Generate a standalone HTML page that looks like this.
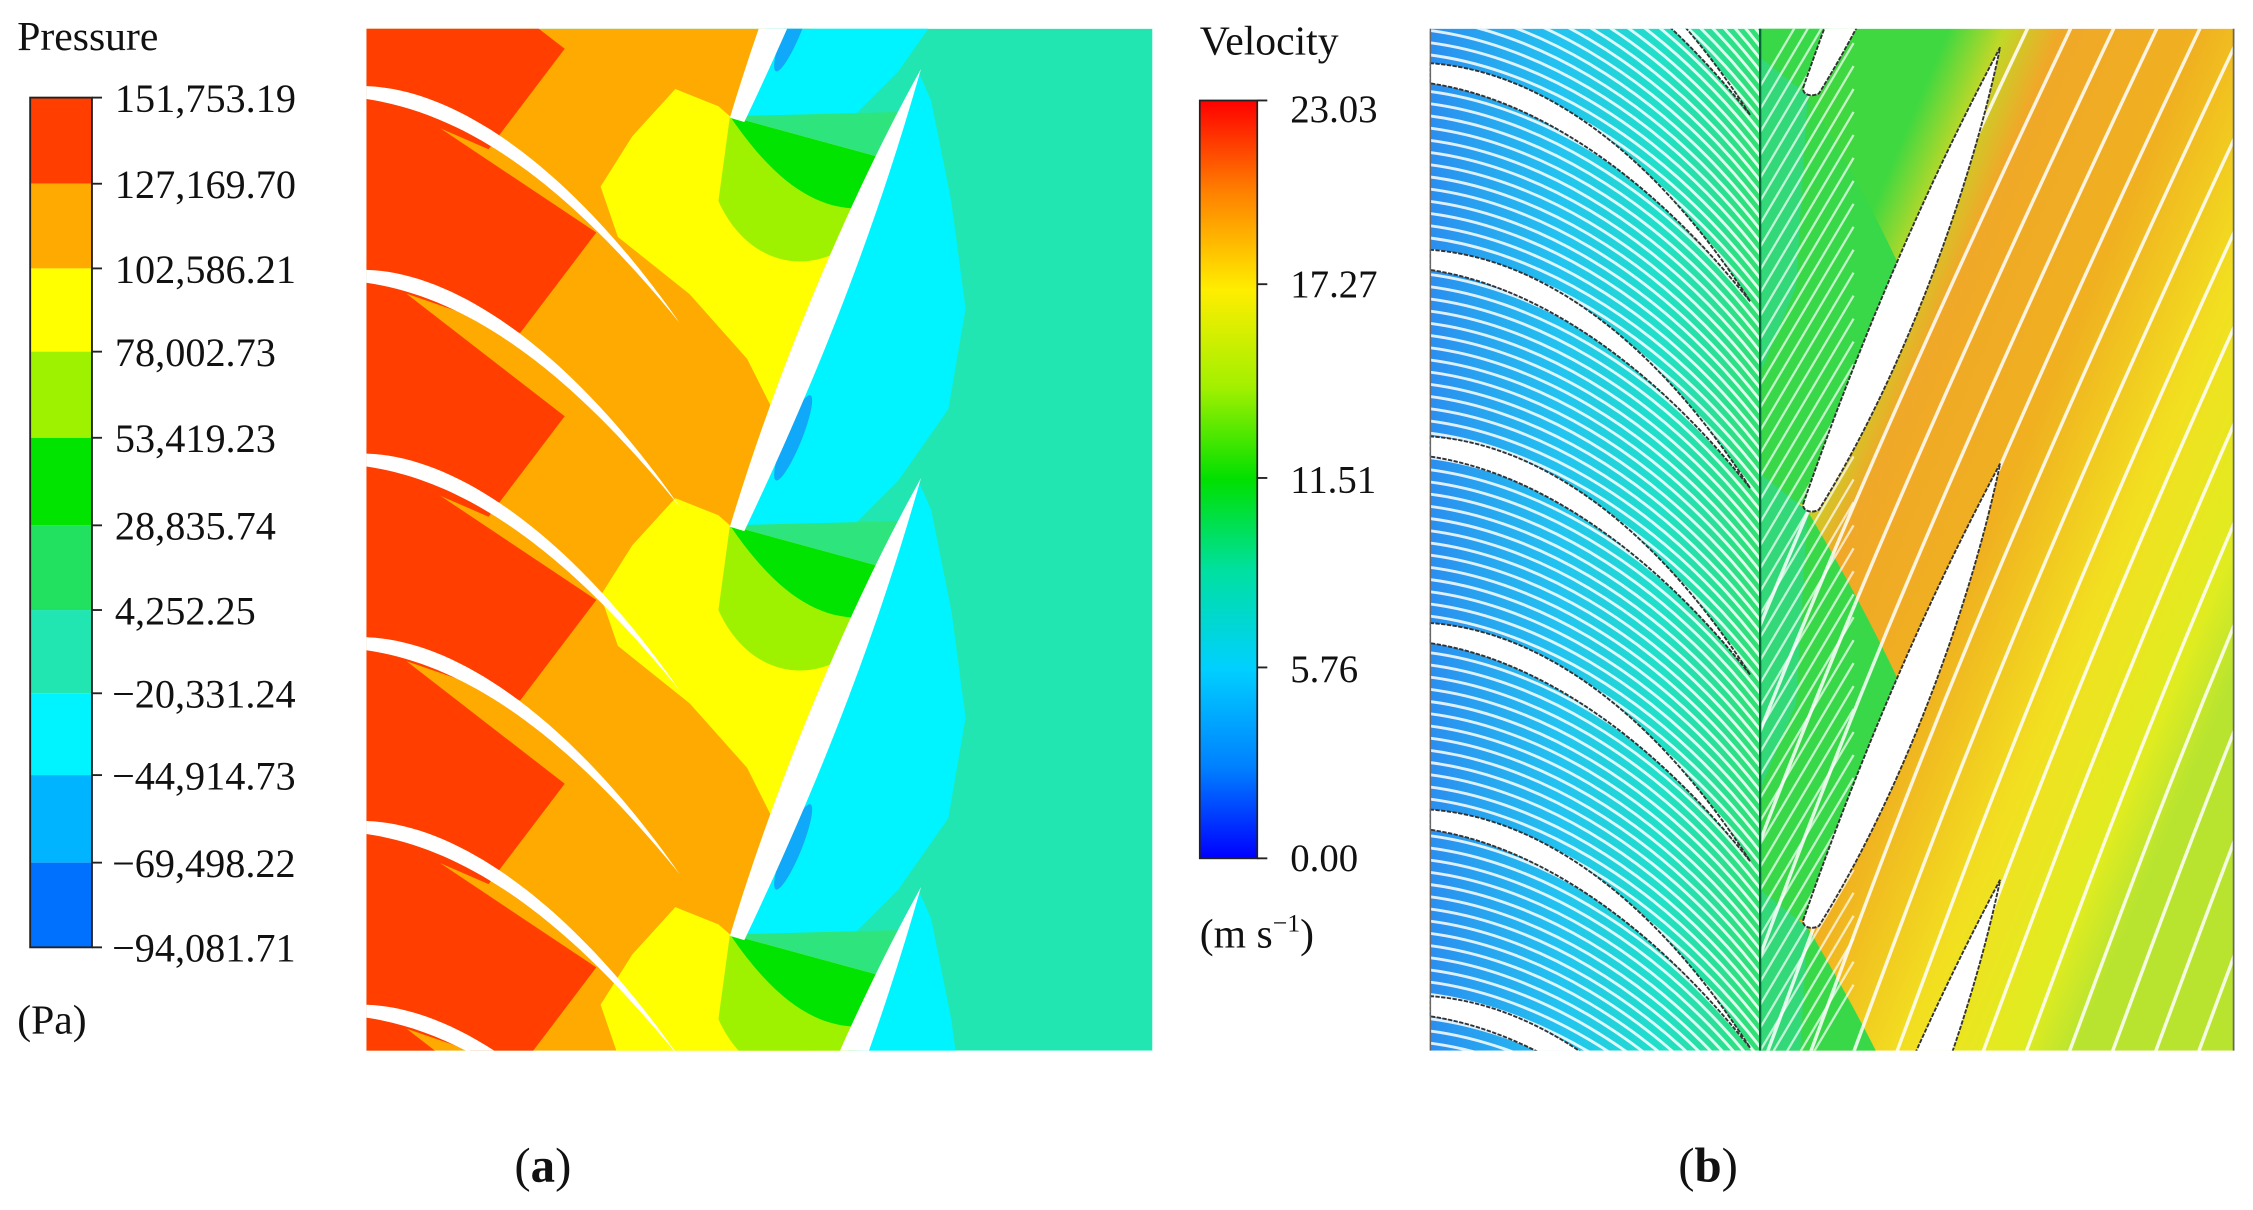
<!DOCTYPE html>
<html><head><meta charset="utf-8">
<style>html,body{margin:0;padding:0;background:#fff;overflow:hidden;width:2253px;height:1210px;position:relative}svg{display:block;position:absolute;left:0;top:0}
text{font-family:"Liberation Serif",serif;fill:#111}</style></head>
<body>
<svg id="s" xmlns="http://www.w3.org/2000/svg" width="2253" height="1210" viewBox="0 0 1568 843" preserveAspectRatio="none">
<defs>
<clipPath id="ca"><rect x="255" y="20" width="547" height="712"/></clipPath>
<clipPath id="cbl"><rect x="995" y="20" width="230" height="712"/></clipPath>
<clipPath id="cbr"><rect x="1225" y="20" width="330" height="712"/></clipPath>
<linearGradient id="vg" x1="0" y1="0" x2="0" y2="1">
<stop offset="0" stop-color="#ff0000"/><stop offset="0.12" stop-color="#ff8000"/>
<stop offset="0.25" stop-color="#ffee00"/><stop offset="0.38" stop-color="#a0f000"/>
<stop offset="0.5" stop-color="#00e000"/><stop offset="0.62" stop-color="#00e0a0"/>
<stop offset="0.75" stop-color="#00d0ff"/><stop offset="0.88" stop-color="#0080ff"/>
<stop offset="1" stop-color="#0000ff"/></linearGradient>
<linearGradient id="lg" gradientUnits="userSpaceOnUse" x1="995" y1="0" x2="1225" y2="0">
<stop offset="0" stop-color="#2a8ef0"/><stop offset="0.4" stop-color="#22c4f0"/>
<stop offset="0.7" stop-color="#20e0c8"/><stop offset="1" stop-color="#30e070"/></linearGradient>
<linearGradient id="rg" gradientUnits="userSpaceOnUse" x1="1225" y1="330" x2="1555" y2="470">
<stop offset="0" stop-color="#40d840"/><stop offset="0.1" stop-color="#c0d828"/>
<stop offset="0.2" stop-color="#f0a828"/><stop offset="0.45" stop-color="#f0b020"/>
<stop offset="0.7" stop-color="#f2e020"/><stop offset="0.9" stop-color="#e0ec20"/>
<stop offset="1" stop-color="#b8e430"/></linearGradient>
</defs>

<g clip-path="url(#ca)" id="pa">
<rect x="255" y="20" width="547" height="712" fill="#22e6b2"/>
<rect x="255" y="20" width="310" height="712" fill="#ffaa00"/>
</g>

<g clip-path="url(#cbl)" id="pbl"><rect x="995" y="20" width="230" height="712" fill="url(#lg)"/></g>
<g clip-path="url(#cbr)" id="pbr"><rect x="1225" y="20" width="330" height="712" fill="url(#rg)"/></g>
<line x1="1225" y1="20" x2="1225" y2="732" stroke="#063" stroke-width="1.6"/>
<line x1="995.5" y1="20" x2="995.5" y2="732" stroke="#666" stroke-width="1"/>
<line x1="1554.5" y1="20" x2="1554.5" y2="732" stroke="#666" stroke-width="1.2"/>

<g id="cba"></g>
<rect x="835" y="70" width="40" height="528" fill="url(#vg)" stroke="#222" stroke-width="1.2"/>
<g stroke="#222" stroke-width="1.3">
<line x1="875" y1="70" x2="882" y2="70"/><line x1="875" y1="198" x2="882" y2="198"/>
<line x1="875" y1="333" x2="882" y2="333"/><line x1="875" y1="465" x2="882" y2="465"/>
<line x1="875" y1="598" x2="882" y2="598"/></g>

<text x="12" y="35" font-size="29">Pressure</text>
<text x="12" y="720" font-size="29">(Pa)</text>
<text x="835" y="38" font-size="29">Velocity</text>
<g font-size="27">
<text x="898" y="85">23.03</text><text x="898" y="207">17.27</text>
<text x="898" y="343">11.51</text><text x="898" y="475">5.76</text>
<text x="898" y="607">0.00</text></g>
<text x="835" y="660" font-size="29">(m s<tspan font-size="18" dy="-11">−1</tspan><tspan dy="11">)</tspan></text>
<text x="358" y="823" font-size="34">(<tspan font-weight="bold">a</tspan>)</text>
<text x="1168" y="823" font-size="34">(<tspan font-weight="bold">b</tspan>)</text>
</svg>
<script>
const NS="http://www.w3.org/2000/svg";
function el(p,t,a){const e=document.createElementNS(NS,t);for(const k in a)e.setAttribute(k,a[k]);p.appendChild(e);return e;}
const pa=document.getElementById('pa');
for(let j=-1;j<6;j++){const d=128*j, sx=(j%2?-12:10);
 el(pa,'polygon',{points:`255,${55+d} ${405+sx},${162+d} ${352+sx},${232+d} 255,${195+d}`,fill:'#ff3e00'});}
for(let m=-1;m<3;m++){const d=285*m;
 el(pa,'polygon',{points:`440,${95+d} 470,${62+d} 500,${74+d} 508,${81+d} 625,${88+d} 560,${250+d} 545,${300+d} 520,${250+d} 480,${205+d} 430,${165+d} 418,${130+d}`,fill:'#ffff00'});
 el(pa,'path',{d:`M508,${81+d} L614,${110+d} L598,${165+d} C565,${195+d} 520,${185+d} 500,${140+d} Z`,fill:'#9ef200'});
 el(pa,'path',{d:`M508,${81+d} L614,${110+d} L604,${145+d} C570,${148+d} 540,${128+d} 508,${81+d} Z`,fill:'#00e400'});
 el(pa,'path',{d:`M508,${81+d} L628,${78+d} L614,${110+d} Z`,fill:'#2ee47c'});
 el(pa,'polygon',{points:`512,${365+d} 560,${230+d} 600,${140+d} 640,${52+d} 648,${70+d} 662,${140+d} 672,${215+d} 660,${285+d} 625,${335+d} 590,${370+d} 555,${385+d}`,fill:'#00f4ff'});
 el(pa,'ellipse',{cx:552,cy:305+d,rx:6,ry:32,fill:'#10a8f8',transform:`rotate(22 552 ${305+d})`});
}
for(let j=0;j<6;j++){const y=60+128*j;
 el(pa,'path',{d:`M255,${y} C320,${y+2} 400,${y+60} 473,${y+165} C400,${y+75} 330,${y+20} 255,${y+9} Z`,fill:'#fff'});}
for(let m=-1;m<4;m++){const d=285*m;
 el(pa,'path',{d:`M508,${367+d} C540,${260+d} 590,${140+d} 641,${48+d} C612,${150+d} 575,${250+d} 518,${370+d} Z`,fill:'#fff'});}
const cba=document.getElementById('cba');
const cols=['#ff3e00','#ffaa00','#ffff00','#9ef200','#00e400','#22e060','#22e6b2','#00f4ff','#00b4ff','#0070ff','#0030ff'];
const labs=['151,753.19','127,169.70','102,586.21','78,002.73','53,419.23','28,835.74','4,252.25','\u221220,331.24','\u221244,914.73','\u221269,498.22','\u221294,081.71'];
const ys=[68,128,187,245,305,366,425,483,540,601,660];
for(let i=0;i<10;i++)el(cba,'rect',{x:21,y:ys[i],width:43,height:ys[i+1]-ys[i],fill:cols[i]});
el(cba,'rect',{x:21,y:68,width:43,height:592,fill:'none',stroke:'#222','stroke-width':1.3});
for(let i=0;i<11;i++){el(cba,'line',{x1:64,y1:ys[i],x2:71,y2:ys[i],stroke:'#222','stroke-width':1.3});
 const t=el(cba,'text',{x:labs[i][0]=='\u2212'?78:80,y:ys[i]+10,'font-size':28});t.textContent=labs[i];}
const bl=document.getElementById('pbl');
let s='';for(let y=-200;y<740;y+=8.5){s+=`M993,${y} C1060,${y+8} 1150,${y+50} 1227,${y+150} `;}
el(bl,'path',{d:s,fill:'none',stroke:'#fff','stroke-width':2,opacity:0.85});
for(let j=-1;j<6;j++){const y=44+130*j;
 el(bl,'path',{d:`M995,${y} C1070,${y+5} 1150,${y+60} 1218,${y+166} C1150,${y+80} 1070,${y+25} 995,${y+14} Z`,fill:'#fff',stroke:'#333','stroke-width':1.3,'stroke-dasharray':'3 1'});}
const br=document.getElementById('pbr');
for(let m=-1;m<3;m++){const d=290*m;
 el(br,'path',{d:`M1225,${40+d} L1258,${66+d} C1290,${120+d} 1310,${160+d} 1324,${190+d} L1255,${351+d} L1225,${351+d} Z`,fill:'#38d848'});
 el(br,'path',{d:`M1225,${40+d} L1258,${66+d} L1250,${200+d} L1225,${260+d} Z`,fill:'#30d8a0',opacity:0.55});
}
let r='';for(let x=1100;x<1700;x+=30){r+=`M${x},${760} C${x+60},${600} ${x+120},${420} ${x+330},-20 `;}
el(br,'path',{d:r,fill:'none',stroke:'#fff','stroke-width':2.4,opacity:0.85});
let r2='';for(let y=60;y<800;y+=16){r2+=`M1225,${y} L1290,${y-110} `;}
el(br,'path',{d:r2,fill:'none',stroke:'#fff','stroke-width':1.6,opacity:0.7});
for(let m=-1;m<3;m++){const d=290*m;
 el(br,'path',{d:`M1255,${351+d} C1290,${250+d} 1335,${140+d} 1392,${33+d} C1372,${130+d} 1325,${260+d} 1266,${355+d} C1261,${358+d} 1254,${356+d} 1255,${351+d} Z`,fill:'#fff',stroke:'#333','stroke-width':1.3,'stroke-dasharray':'3 1'});}
</script>
</body></html>
